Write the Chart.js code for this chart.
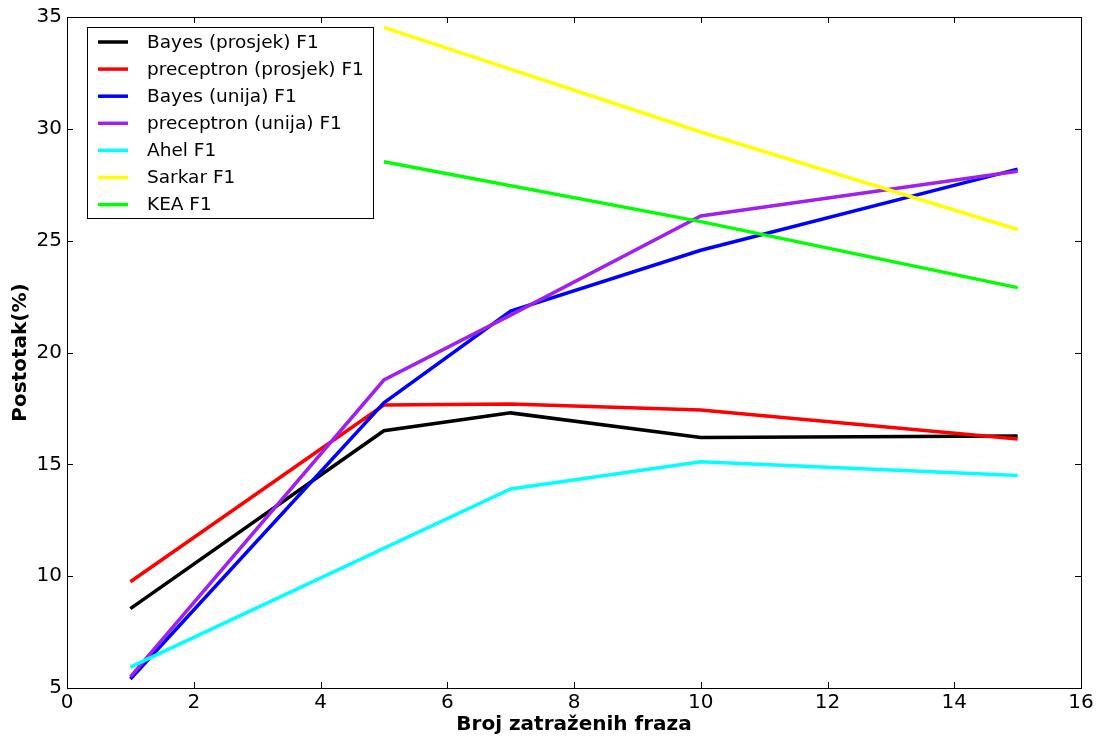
<!DOCTYPE html>
<html>
<head>
<meta charset="utf-8">
<script src="https://cdn.jsdelivr.net/npm/chart.js@4.4.1/dist/chart.umd.min.js"></script>
<style>
  html, body { margin: 0; padding: 0; background: #fff; }
  #wrap { width: 1099px; height: 738px; }
</style>
</head>
<body>
<div id="wrap"><canvas id="chart" width="1099" height="738"></canvas></div>
<script>
const LABELS = [
    "Bayes (prosjek) F1",
    "preceptron (prosjek) F1",
    "Bayes (unija) F1",
    "preceptron (unija) F1",
    "Ahel F1",
    "Sarkar F1",
    "KEA F1",
];
const COLORS = ["#000000", "#ff0000", "#0000ff", "#a020f0", "#00ffff", "#ffff00", "#00ff00"];

// x positions (number of requested phrases) for each series
const X_OURS = [1, 5, 7, 10, 15];
const X_AHEL = [1, 7, 10, 15];
const X_OTHERS = [5, 10, 15];

const bayesAvg = [8.55, 16.5, 17.3, 16.2, 16.27];
const perceptronAvg = [9.75, 17.65, 17.7, 17.43, 16.13];
const bayesUnion = [5.4, 17.75, 21.85, 24.57, 28.2];
const perceptronUnion = [5.5, 18.77, 21.67, 26.1, 28.1];
const ahel = [5.93, 13.9, 15.12, 14.5];
const sarkar = [34.54, 29.86, 25.5];
const kea = [28.53, 25.85, 22.9];

const X_TICKS = [0, 2, 4, 6, 8, 10, 12, 14, 16];
const Y_TICKS = [5, 10, 15, 20, 25, 30, 35];

const SERIES = [
    [X_OURS, bayesAvg],
    [X_OURS, perceptronAvg],
    [X_OURS, bayesUnion],
    [X_OURS, perceptronUnion],
    [X_AHEL, ahel],
    [X_OTHERS, sarkar],
    [X_OTHERS, kea],
];

const datasets = SERIES.map(([xs, ys], index) => ({
    label: LABELS[index],
    data: xs.map((x, i) => ({x, y: ys[i]})),
    borderColor: COLORS[index],
    backgroundColor: COLORS[index],
    borderWidth: 3.5,
    pointRadius: 0,
    tension: 0,
    order: SERIES.length - index, // later series on top, like matplotlib
}));

// frame, inward ticks and the boxed legend
const framePlugin = {
    id: 'frame',
    afterDatasetsDraw(chart) {
        const {ctx, chartArea: a, scales} = chart;
        ctx.save();
        ctx.strokeStyle = '#000';
        ctx.lineWidth = 1;
        ctx.beginPath();
        X_TICKS.forEach(v => {
            const px = Math.round(scales.x.getPixelForValue(v)) + 0.5;
            ctx.moveTo(px, a.bottom); ctx.lineTo(px, a.bottom - 6);
            ctx.moveTo(px, a.top); ctx.lineTo(px, a.top + 6);
        });
        Y_TICKS.forEach(v => {
            const py = Math.round(scales.y.getPixelForValue(v)) + 0.5;
            ctx.moveTo(a.left, py); ctx.lineTo(a.left + 6, py);
            ctx.moveTo(a.right, py); ctx.lineTo(a.right - 6, py);
        });
        ctx.stroke();
        ctx.strokeRect(Math.round(a.left) + 0.5, Math.round(a.top) + 0.5,
            Math.round(a.right - a.left), Math.round(a.bottom - a.top));

        // legend
        const lx = a.left + 20, ly = a.top + 10, lw = 286, lh = 191;
        ctx.fillStyle = '#fff';
        ctx.fillRect(lx, ly, lw, lh);
        ctx.strokeRect(lx + 0.5, ly + 0.5, lw, lh);
        ctx.font = '18.5px "DejaVu Sans"';
        ctx.textBaseline = 'middle';
        chart.data.datasets.forEach((ds, i) => {
            const y = ly + 15 + i * 27.1;
            ctx.strokeStyle = ds.borderColor;
            ctx.lineWidth = 3.5;
            ctx.beginPath();
            ctx.moveTo(lx + 11, y); ctx.lineTo(lx + 41, y);
            ctx.stroke();
            ctx.fillStyle = '#000';
            ctx.fillText(ds.label, lx + 60, y + 1);
        });
        ctx.restore();
    }
};

new Chart(document.getElementById('chart'), {
    type: 'line',
    data: {datasets},
    plugins: [framePlugin],
    options: {
        responsive: false,
        animation: false,
        layout: {padding: {top: 15, right: 18, left: 0, bottom: 0}},
        plugins: {legend: {display: false}, tooltip: {enabled: false}},
        scales: {
            x: {
                type: 'linear',
                min: 0, max: 16,
                afterFit(scale) { scale.height = 50; },
                afterBuildTicks(scale) { scale.ticks = X_TICKS.map(value => ({value})); },
                grid: {display: false, drawTicks: false},
                border: {display: false},
                ticks: {color: '#000', font: {family: 'DejaVu Sans', size: 20}, padding: 3, maxRotation: 0},
                title: {display: true, text: 'Broj zatraženih fraza', color: '#000',
                    font: {family: 'DejaVu Sans', size: 20, weight: 'bold'}, padding: {top: 0, bottom: 1}},
            },
            y: {
                type: 'linear',
                min: 5, max: 35,
                afterFit(scale) { scale.width = 67; },
                afterBuildTicks(scale) { scale.ticks = Y_TICKS.map(value => ({value})); },
                grid: {display: false, drawTicks: false},
                border: {display: false},
                ticks: {color: '#000', font: {family: 'DejaVu Sans', size: 20}, padding: 5},
                title: {display: true, text: 'Postotak(%)', color: '#000',
                    font: {family: 'DejaVu Sans', size: 20, weight: 'bold'}, padding: {top: 9, bottom: 0}},
            }
        }
    }
});
</script>
</body>
</html>
